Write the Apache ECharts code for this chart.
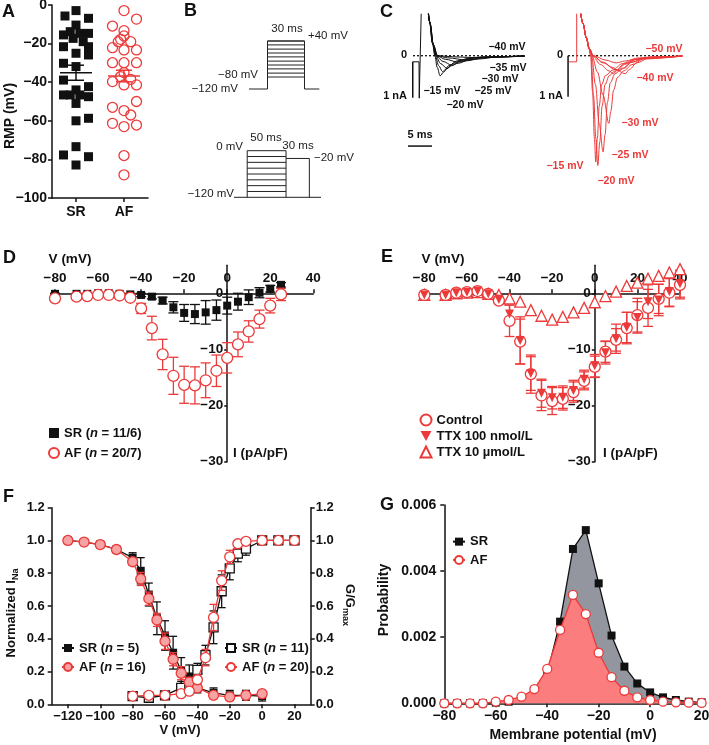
<!DOCTYPE html>
<html><head><meta charset="utf-8">
<script src="https://cdn.jsdelivr.net/npm/echarts@6/dist/echarts.min.js"></script>
<style>html,body{margin:0;padding:0;background:#fff}#c{width:709px;height:745px}</style>
</head><body><div id="c"></div><script>
const FONT = "'Liberation Sans', Arial, Helvetica, sans-serif";
const RED = '#ec3a3a';
const PINK = '#f7a3a3';
const GRAY = '#93959f';
const AREA_RED = '#fb7d7d';

// ---------- Panel A: resting membrane potential (mV)
const aSR = [-2.9,-5.7,-6.9,-10.4,-13.8,-14.7,-15.5,-14.7,-17.3,-19,-21.6,-21.6,-24.2,-25,-25.9,-30.2,-31.9,-38.9,-42.3,-44,-46.6,-46.6,-46.6,-47.5,-51,-58.7,-60,-73.4,-77.7,-78.6,-82.9];
const aSRJit = [0,-0.23,0.26,0,-0.12,0.08,-0.26,0.26,-0.06,0.15,-0.26,0.26,0.26,0,0.26,-0.26,0,-0.26,0.26,0,-0.26,-0.12,0.08,0.26,0,0.26,0,0,-0.26,0.26,0];
const aAF = [-2.9,-7.3,-10.9,-13.3,-16,-17.8,-19,-19,-22.1,-23.3,-23.3,-29.9,-29.9,-29.9,-35,-37.1,-38.5,-39.7,-41.4,-41.4,-50,-53,-54.7,-57,-61.3,-62.2,-63,-78,-88];
const aAFJit = [0,0.26,-0.24,0,0,-0.07,-0.12,0.14,-0.24,0,0.26,-0.24,0,0.26,0,-0.07,0.14,-0.24,0,0.26,0.26,-0.24,0,0.14,-0.24,0.26,0,0,0];
const aGroups = ['SR','AF'];
const aMean = [-35.1,-36.8];
const aSem = [3.9,3.0];

// ---------- Panel B: voltage protocols (ms, mV)
const bTopLevels = [-80,-67,-53,-40,-27,-13,0,13,27,40];
const bTopTimes = [0,15,45,57];      // start, step on, step off, end
const bHold = -120;
const bBotLevels = [0,-15,-30,-45,-60,-75,-90,-105];
const bBotTimes = [0,17,67,97,112];  // start, prepulse on, test on, test off, end
const bBotTest = -20;

// ---------- Panel C: current traces (ms, nA)
const cSR_m15 = [[1.5,2.0],[2.2,0.95],[2.8,0.35],[3.3,0],[3.8,-0.33],[4.4,-0.56],[5.1,-0.46],[6.2,-0.28],[8,-0.14],[11,-0.06],[15,-0.03],[22,-0.01]];
const cSR_m20 = [[1.5,2.0],[2.2,0.95],[2.8,0.35],[3.4,0],[4.1,-0.28],[4.9,-0.44],[5.7,-0.37],[7.2,-0.21],[9.5,-0.1],[13,-0.04],[22,-0.01]];
const cSR_m25 = [[1.5,2.0],[2.2,0.95],[2.9,0.33],[3.5,0],[4.5,-0.22],[5.8,-0.35],[6.8,-0.28],[8.6,-0.15],[11.5,-0.06],[15,-0.03],[22,-0.01]];
const cSR_m30 = [[1.5,2.0],[2.2,0.95],[2.9,0.33],[3.6,0],[5,-0.16],[6.8,-0.26],[8.2,-0.21],[10.5,-0.11],[14,-0.04],[22,-0.01]];
const cSR_m35 = [[1.5,2.0],[2.3,0.9],[3,0.3],[3.7,0],[5.5,-0.1],[8.2,-0.18],[10,-0.14],[13,-0.07],[17,-0.03],[22,-0.01]];
const cSR_m40 = [[1.5,2.0],[2.3,0.9],[3,0.3],[3.8,0],[6,-0.06],[9.9,-0.12],[12.5,-0.09],[16,-0.04],[22,-0.01]];
const cSR_m45 = [[1.5,2.0],[2.3,0.9],[3,0.3],[3.9,0],[7,-0.03],[11,-0.05],[16,-0.03],[22,-0.01]];
const cSRcap = [[-1.3,-0.17],[0,-0.17],[0.05,-1.18],[0.5,1.4]];
const cAF_m15 = [[0.3,1.8],[1.3,0.9],[2.0,0.5],[2.5,0.22],[2.9,0],[3.3,-1.0],[3.7,-2.3],[3.96,-2.95],[4.3,-2.3],[4.7,-1.4],[5.2,-0.8],[6.0,-0.55],[7.5,-0.4],[9.5,-0.22],[12,-0.1],[15,-0.04],[22,-0.01]];
const cAF_m20 = [[0.3,1.8],[1.3,0.9],[2.0,0.5],[2.5,0.22],[3.0,0],[3.5,-1.1],[4.0,-2.3],[4.4,-3.05],[4.8,-2.4],[5.3,-1.4],[5.9,-0.8],[6.8,-0.55],[8,-0.42],[10,-0.22],[12.5,-0.1],[16,-0.04],[22,-0.01]];
const cAF_m25 = [[0.3,1.8],[1.3,0.9],[2.0,0.5],[2.6,0.2],[3.1,0],[3.9,-0.8],[4.7,-1.9],[5.5,-2.67],[5.9,-2.2],[6.4,-1.3],[7.0,-0.75],[8,-0.5],[9.5,-0.35],[11.5,-0.18],[14,-0.07],[22,-0.01]];
const cAF_m30 = [[0.3,1.8],[1.3,0.9],[2.0,0.5],[2.6,0.2],[3.2,0],[4.3,-0.45],[5.5,-1.1],[6.7,-1.88],[7.1,-1.55],[7.7,-0.95],[8.5,-0.6],[9.8,-0.42],[11.5,-0.25],[14,-0.09],[22,-0.01]];
const cAF_m35 = [[0.3,1.8],[1.3,0.9],[2.0,0.5],[2.6,0.2],[3.3,0],[5,-0.25],[6.7,-0.42],[7.6,-0.5],[8.5,-0.4],[10,-0.24],[12.5,-0.1],[16,-0.03],[22,-0.01]];
const cAF_m40 = [[0.3,1.8],[1.3,0.9],[2.0,0.5],[2.7,0.18],[3.4,0],[5.5,-0.2],[8,-0.38],[10.1,-0.5],[11,-0.38],[12.5,-0.2],[15,-0.07],[22,-0.01]];
const cAF_m45 = [[0.3,1.8],[1.3,0.9],[2.0,0.5],[2.7,0.18],[3.4,0],[5.5,-0.18],[7.5,-0.33],[8.8,-0.42],[9.8,-0.35],[11.5,-0.18],[14.5,-0.06],[22,-0.01]];
const cAF_m50 = [[0.3,1.8],[1.3,0.9],[2.0,0.5],[2.7,0.18],[3.5,0],[6,-0.12],[8.2,-0.2],[10,-0.15],[13,-0.06],[22,-0.01]];
const cAFhold = [[-1.6,-0.17],[0,-0.17],[0,1.4]];

// ---------- Panel D: I-V (pA/pF)
const dV = [-80,-70,-65,-60,-55,-50,-45,-40,-35,-30,-25,-20,-15,-10,-5,0,5,10,15,20,25];
const dSR = [-0.1,-0.1,-0.1,0,0,-0.1,-0.2,-0.3,-0.6,-1.3,-2.5,-3.5,-3.7,-3.4,-3.0,-2.2,-1.5,-0.7,0.1,0.8,1.5];
const dSRerr = [0.1,0.1,0.1,0.1,0.1,0.1,0.2,0.3,0.4,0.6,1.0,1.5,1.7,2.1,1.8,1.5,1.5,1.3,0.9,0.6,0.4];
const dAF = [-0.9,-0.6,-0.5,-0.3,-0.3,-0.4,-0.8,-2.7,-6.2,-10.9,-14.7,-16.3,-16.4,-15.5,-13.8,-11.5,-9.1,-6.8,-4.6,-2.2,-0.2];
const dAFerr = [0.2,0.2,0.2,0.2,0.2,0.2,0.3,0.9,2.1,2.7,3.3,3.3,3.3,3.1,2.8,2.7,2.2,1.9,1.6,1.3,1.1];

// ---------- Panel E: I-V with TTX
const eV = [-80,-70,-65,-60,-55,-50,-45,-40,-35,-30,-25,-20,-15,-10,-5,0,5,10,15,20,25,30,35,40];
const eCtrl = [-0.3,-0.3,0.1,0.2,0.4,-0.1,-1.3,-4.9,-8.6,-14.4,-18.2,-19.2,-18.8,-17.6,-15.6,-13.1,-10.4,-8.3,-6.2,-3.9,-2.6,-1.0,0.1,1.5];
const eCtrlErr = [0.2,0.2,0.2,0.2,0.2,0.2,0.4,2.8,4.0,3.4,2.7,2.4,2.0,1.8,1.6,1.9,1.9,2.0,2.8,3.0,3.3,2.6,2.5,2.5];
const eTTX100 = [-0.3,-0.3,0.1,0.2,0.4,-0.1,-1.1,-3.7,-8.4,-14.3,-17.8,-18.6,-18.5,-17.3,-15.3,-12.9,-10.6,-8.1,-6.1,-4.3,-1.5,-1.2,0.3,1.7];
const eTTX100Err = [0.2,0.2,0.2,0.2,0.2,0.2,0.4,1.6,4.2,3.0,2.5,2.0,2.0,1.8,1.6,2.0,2.0,2.6,2.7,2.8,3.0,2.8,2.6,2.4];
const eTTX10 = [-0.3,-0.3,0,0.1,0.2,-0.1,-0.3,-0.9,-1.5,-3.0,-4.0,-4.7,-4.2,-3.4,-2.6,-1.6,-0.5,0.3,1.3,1.9,2.6,3.1,3.7,4.3];

// ---------- Panel F: inactivation / activation
const fInV = [-120,-110,-100,-90,-80,-75,-70,-65,-60,-55,-50,-45,-40,-30,-20,-10,0];
const fInSR = [1.0,0.99,0.975,0.945,0.895,0.815,0.67,0.525,0.42,0.315,0.205,0.17,0.1,0.07,0.055,0.055,0.05];
const fInSRerr = [0.005,0.01,0.01,0.015,0.03,0.08,0.07,0.1,0.09,0.1,0.08,0.07,0.03,0.03,0.03,0.03,0.03];
const fInAF = [1.0,0.99,0.975,0.945,0.87,0.765,0.645,0.515,0.385,0.275,0.19,0.135,0.1,0.055,0.045,0.055,0.065];
const fInAFerr = [0.005,0.01,0.01,0.015,0.02,0.04,0.04,0.04,0.05,0.04,0.04,0.03,0.02,0.02,0.02,0.02,0.02];
const fAcV = [-80,-70,-60,-50,-45,-40,-35,-30,-25,-20,-15,-10,0,10,20];
const fAcSR = [0.05,0.04,0.055,0.1,0.12,0.21,0.3,0.47,0.69,0.83,0.92,0.95,1.0,1.0,1.0];
const fAcSRerr = [0.01,0.01,0.01,0.04,0.05,0.04,0.06,0.1,0.1,0.07,0.05,0.04,0.01,0.01,0.01];
const fAcAF = [0.05,0.055,0.055,0.065,0.08,0.15,0.285,0.53,0.755,0.9,0.98,0.995,1.0,1.0,1.0];
const fAcAFerr = [0.01,0.01,0.01,0.01,0.02,0.03,0.05,0.08,0.06,0.04,0.02,0.01,0.005,0.005,0.005];

// ---------- Panel G: probability distribution
const gV = [-80,-75,-70,-65,-60,-55,-50,-45,-40,-35,-30,-25,-20,-15,-10,-5,0,5,10,15,20];
const gSR = [0,0,0,0,0.00002,0.00005,0.00015,0.0004,0.0009,0.00247,0.00467,0.00524,0.00363,0.00205,0.00111,0.0006,0.00033,0.00018,0.0001,0.00005,0.00003];
const gAF = [0,0,0,0,0.00005,0.0001,0.0002,0.00043,0.00104,0.00222,0.00328,0.0027,0.00153,0.00079,0.00038,0.00018,0.0001,0.00005,0.00003,0.00002,0.00001];

// ================= helpers
function minus(v){ return v < 0 ? '\u2212' + Math.abs(v) : String(v); }
function isObj(o){ return o && typeof o === 'object' && !Array.isArray(o); }
function merge(a, b){ const o = Object.assign({}, a); for (const k in b){ o[k] = (isObj(b[k]) && isObj(a[k])) ? merge(a[k], b[k]) : b[k]; } return o; }
function axis(o){
  return merge({type:'value', splitLine:{show:false},
    axisLine:{show:true, onZero:false, lineStyle:{color:'#111', width:1.5}},
    axisTick:{show:true, inside:false, length:4, lineStyle:{color:'#111', width:1.5}},
    axisLabel:{color:'#111', fontFamily:FONT, fontWeight:'bold', fontSize:13, margin:5, formatter:minus}}, o);
}
function hidden(o){ return Object.assign({type:'value', show:false, splitLine:{show:false}}, o); }
function zip(xs, ys){ return xs.map((x,i)=>[x, ys[i]]); }
function errData(xs, ys, es){ return xs.map((x,i)=>[x, ys[i]-es[i], ys[i]+es[i]]); }
function errSeries(xi, yi, data, color, cap, z){
  return {type:'custom', xAxisIndex:xi, yAxisIndex:yi, data, z:z||2, silent:true, encode:{x:0, y:[1,2]},
    renderItem(p, api){
      const x = api.value(0), a = api.coord([x, api.value(1)]), b = api.coord([x, api.value(2)]), h = cap/2;
      const st = {stroke:color, lineWidth:1.3};
      return {type:'group', children:[
        {type:'line', shape:{x1:a[0],y1:a[1],x2:b[0],y2:b[1]}, style:st},
        {type:'line', shape:{x1:a[0]-h,y1:a[1],x2:a[0]+h,y2:a[1]}, style:st},
        {type:'line', shape:{x1:b[0]-h,y1:b[1],x2:b[0]+h,y2:b[1]}, style:st}]};
    }};
}
function segSeries(xi, yi, data, style){
  return {type:'custom', xAxisIndex:xi, yAxisIndex:yi, data, silent:true, encode:{x:[0,2], y:[1,3]},
    renderItem(p, api){
      const a = api.coord([api.value(0), api.value(1)]), b = api.coord([api.value(2), api.value(3)]);
      return {type:'line', shape:{x1:a[0],y1:a[1],x2:b[0],y2:b[1]}, style:Object.assign({}, style)};
    }};
}
function trace(xi, yi, data, color, smooth){
  return {type:'line', xAxisIndex:xi, yAxisIndex:yi, data, showSymbol:false, symbol:'none', smooth: smooth===false?false:0.35,
    smoothMonotone:'x', clip:true, silent:true, lineStyle:{color, width:1}, z:3};
}
function T(x, y, text, o){
  o = o || {};
  return {type:'text', x, y, rotation:o.rot||0, silent:true, z:100,
    style:{text, fill:o.color||'#111', font:(o.weight||'bold')+' '+(o.size||13)+'px '+FONT,
      align:o.align||'left', verticalAlign:'middle', rich:o.rich}};
}

// ================= series
const series = [];
// A
series.push({type:'scatter', name:'A-SR', xAxisIndex:0, yAxisIndex:0, symbol:'rect', symbolSize:9,
  itemStyle:{color:'#111', opacity:1}, data:aSR.map((v,i)=>[0.5+aSRJit[i], v]), silent:true});
series.push({type:'scatter', name:'A-AF', xAxisIndex:0, yAxisIndex:0, symbol:'circle', symbolSize:10,
  itemStyle:{color:'rgba(255,255,255,0)', borderColor:RED, borderWidth:1.3, opacity:1}, data:aAF.map((v,i)=>[1.5+aAFJit[i], v]), silent:true});
series.push({type:'custom', xAxisIndex:0, yAxisIndex:0, silent:true, z:5, encode:{x:0, y:1},
  data:aGroups.map((g,i)=>[0.5+i, aMean[i], aSem[i], i]),
  renderItem(p, api){
    const x = api.value(0), m = api.value(1), s = api.value(2);
    const col = api.value(3) ? RED : '#111';
    const pm = api.coord([x,m]), pl = api.coord([x,m-s]), ph = api.coord([x,m+s]);
    const st = {stroke:col, lineWidth:1.5};
    return {type:'group', children:[
      {type:'line', shape:{x1:pm[0]-16,y1:pm[1],x2:pm[0]+16,y2:pm[1]}, style:st},
      {type:'line', shape:{x1:pl[0],y1:pl[1],x2:ph[0],y2:ph[1]}, style:st},
      {type:'line', shape:{x1:pl[0]-8,y1:pl[1],x2:pl[0]+8,y2:pl[1]}, style:st},
      {type:'line', shape:{x1:ph[0]-8,y1:ph[1],x2:ph[0]+8,y2:ph[1]}, style:st}]};
  }});

// B
const bStyle = {stroke:'#222', lineWidth:1};
series.push({type:'line', xAxisIndex:1, yAxisIndex:1, showSymbol:false, symbol:'none', clip:false, silent:true,
  lineStyle:{color:'#222', width:1},
  data:[[bTopTimes[0],bHold],[bTopTimes[1],bHold],[bTopTimes[1],bTopLevels[bTopLevels.length-1]],[bTopTimes[2],bTopLevels[bTopLevels.length-1]],[bTopTimes[2],bHold],[bTopTimes[3],bHold]]});
series.push(segSeries(1, 1, bTopLevels.map(l=>[bTopTimes[1], l, bTopTimes[2], l]), bStyle));
series.push(segSeries(2, 2, [[bBotTimes[0],bHold,bBotTimes[4],bHold],[bBotTimes[1],bHold,bBotTimes[1],bBotLevels[0]],[bBotTimes[2],bHold,bBotTimes[2],bBotLevels[0]],
  [bBotTimes[2],bBotTest,bBotTimes[3],bBotTest],[bBotTimes[3],bBotTest,bBotTimes[3],bHold]], bStyle));
series.push(segSeries(2, 2, bBotLevels.map(l=>[bBotTimes[1], l, bBotTimes[2], l]), bStyle));

// C black
[cSR_m45,cSR_m40,cSR_m35,cSR_m30,cSR_m25,cSR_m20,cSR_m15].forEach(d=>series.push(trace(3,3,d,'#111')));
series.push(trace(3,3,cSRcap,'#111',false));
series.push(segSeries(3,3,[[-1.25,0,21.9,0]], {stroke:'#111', lineWidth:1.3, lineDash:[2,2]}));
series.push(segSeries(3,3,[[-1.3,-0.17,-1.3,-1.17],[-2.3,-2.51,2.7,-2.51]], {stroke:'#111', lineWidth:1.5}));
// C red
[cAF_m50,cAF_m45,cAF_m40,cAF_m35,cAF_m30,cAF_m25,cAF_m20,cAF_m15].forEach(d=>series.push(trace(4,4,d,RED)));
series.push(trace(4,4,cAFhold,RED,false));
series.push(segSeries(4,4,[[-1.8,0,22.1,0]], {stroke:'#111', lineWidth:1.3, lineDash:[2,2]}));
series.push(segSeries(4,4,[[-1.8,0,-1.8,-1.14]], {stroke:'#111', lineWidth:1.5}));

// D
series.push(errSeries(5,5,errData(dV,dSR,dSRerr),'#111',10,2));
series.push({type:'scatter', name:'SR (n = 11/6)', xAxisIndex:5, yAxisIndex:5, symbol:'rect', symbolSize:8,
  itemStyle:{color:'#111', opacity:1}, data:zip(dV,dSR), z:3});
series.push(errSeries(5,5,errData(dV,dAF,dAFerr),RED,10,4));
series.push({type:'scatter', name:'AF (n = 20/7)', xAxisIndex:5, yAxisIndex:5, symbol:'circle', symbolSize:11,
  itemStyle:{color:'#fff', borderColor:RED, borderWidth:1.3, opacity:1}, data:zip(dV,dAF), z:5});

// E
series.push(errSeries(6,6,errData(eV,eCtrl,eCtrlErr),RED,10,2));
series.push(errSeries(6,6,errData(eV,eTTX100,eTTX100Err),RED,10,2));
series.push({type:'scatter', name:'TTX 10 \u00b5mol/L', xAxisIndex:6, yAxisIndex:6, symbol:'triangle', symbolSize:11,
  itemStyle:{color:'#fff', borderColor:RED, borderWidth:1.3, opacity:1}, data:zip(eV,eTTX10), z:3});
series.push({type:'scatter', name:'Control', xAxisIndex:6, yAxisIndex:6, symbol:'circle', symbolSize:11,
  itemStyle:{color:'#fff', borderColor:RED, borderWidth:1.3, opacity:1}, data:zip(eV,eCtrl), z:4});
series.push({type:'scatter', name:'TTX 100 nmol/L', xAxisIndex:6, yAxisIndex:6, symbol:'triangle', symbolRotate:180, symbolSize:9,
  itemStyle:{color:RED, opacity:1}, data:zip(eV,eTTX100), z:5});

// F
series.push(errSeries(7,7,errData(fInV,fInSR,fInSRerr),'#111',8,2));
series.push(errSeries(7,7,errData(fAcV,fAcSR,fAcSRerr),'#111',8,2));
series.push({type:'line', name:'SR (n = 5)', xAxisIndex:7, yAxisIndex:7, data:zip(fInV,fInSR), symbol:'rect', symbolSize:8,
  lineStyle:{color:'#111', width:1.3}, itemStyle:{color:'#111'}, z:3});
series.push({type:'line', name:'SR (n = 11)', xAxisIndex:7, yAxisIndex:7, data:zip(fAcV,fAcSR), symbol:'rect', symbolSize:9,
  lineStyle:{color:'#111', width:1.3}, itemStyle:{color:'#fff', borderColor:'#111', borderWidth:1.3}, z:3});
series.push(errSeries(7,7,errData(fInV,fInAF,fInAFerr),RED,8,4));
series.push(errSeries(7,7,errData(fAcV,fAcAF,fAcAFerr),RED,8,4));
series.push({type:'line', name:'AF (n = 16)', xAxisIndex:7, yAxisIndex:7, data:zip(fInV,fInAF), symbol:'circle', symbolSize:10,
  lineStyle:{color:RED, width:1.3}, itemStyle:{color:PINK, borderColor:RED, borderWidth:1.3}, z:5});
series.push({type:'line', name:'AF (n = 20)', xAxisIndex:7, yAxisIndex:7, data:zip(fAcV,fAcAF), symbol:'circle', symbolSize:10,
  lineStyle:{color:RED, width:1.3}, itemStyle:{color:'#fff', borderColor:RED, borderWidth:1.3}, z:5});

// G
series.push({type:'line', name:'SR', xAxisIndex:8, yAxisIndex:9, data:zip(gV,gSR), symbol:'rect', symbolSize:8,
  lineStyle:{color:'#111', width:1.3}, itemStyle:{color:'#111'}, areaStyle:{color:GRAY, opacity:1}, z:2});
series.push({type:'line', name:'AF', xAxisIndex:8, yAxisIndex:9, data:zip(gV,gAF), symbol:'circle', symbolSize:9,
  lineStyle:{color:RED, width:1.3}, itemStyle:{color:'#fff', borderColor:RED, borderWidth:1.3}, areaStyle:{color:AREA_RED, opacity:1}, z:3});

// ================= legends
function leg(names, left, top, lh, iw, ih){
  return {data:names, left, top, orient:'vertical', padding:0, itemGap:0, itemWidth:iw, itemHeight:ih, selectedMode:false,
    formatter: n => n.indexOf('n =') >= 0 ? n.replace('n =', '{i|n} =') : n,
    textStyle:{color:'#111', fontFamily:FONT, fontWeight:'bold', fontSize:13, lineHeight:lh,
      rich:{i:{fontStyle:'italic', fontWeight:'bold', fontFamily:FONT, fontSize:13, lineHeight:lh, color:'#111'}}}};
}

const option = {
  animation:false,
  backgroundColor:'#fff',
  grid:[
    {left:52, top:5, width:96, height:193},
    {left:249, top:41, width:70.3, height:48},
    {left:234, top:150.7, width:87, height:46.6},
    {left:404.6, top:14.3, width:124.8, height:135},
    {left:562.3, top:14.3, width:124.8, height:156.6},
    {left:55, top:265.2, width:258.3, height:196.5},
    {left:424.3, top:265.2, width:255.7, height:196.5},
    {left:51.7, top:507.7, width:259, height:196.6},
    {left:444.3, top:505, width:257.3, height:198.3}
  ].map(g=>Object.assign({containLabel:false, outerBoundsMode:'none'}, g)),
  xAxis:[
    axis({gridIndex:0, min:0, max:2, axisTick:{customValues:[0.5,1.5]},
      axisLabel:{customValues:[0.5,1.5], formatter:v=>aGroups[v<1?0:1], fontSize:14, margin:7}}),
    hidden({gridIndex:1, min:bTopTimes[0], max:bTopTimes[3]}),
    hidden({gridIndex:2, min:bBotTimes[0], max:bBotTimes[4]}),
    hidden({gridIndex:3, min:-3, max:23}),
    hidden({gridIndex:4, min:-3, max:23}),
    axis({gridIndex:5, min:-80, max:40, interval:20, position:'top', offset:-28.1, axisLabel:{fontSize:13.5, margin:8}}),
    axis({gridIndex:6, min:-80, max:40, interval:20, position:'top', offset:-28.1, axisLabel:{fontSize:13.5, margin:8}}),
    axis({gridIndex:7, min:-130, max:30, axisTick:{customValues:[-120,-100,-80,-60,-40,-20,0,20]},
      axisLabel:{customValues:[-120,-100,-80,-60,-40,-20,0,20], margin:6}}),
    axis({gridIndex:8, min:-80, max:20, interval:20, axisLabel:{fontSize:14, margin:6}})
  ],
  yAxis:[
    axis({gridIndex:0, min:-100, max:0, interval:20, axisLabel:{fontSize:14, margin:5}}),
    hidden({gridIndex:1, min:-120, max:40}),
    hidden({gridIndex:2, min:-120, max:0}),
    hidden({gridIndex:3, min:-2.6, max:1.15}),
    hidden({gridIndex:4, min:-3.2, max:1.15}),
    axis({gridIndex:5, min:-30, max:5, offset:-172.2, axisTick:{customValues:[-30,-20,-10,0], length:3},
      axisLabel:{customValues:[-30,-20,-10,0], fontSize:13.5, margin:4}}),
    axis({gridIndex:6, min:-30, max:5, offset:-170.5, axisTick:{customValues:[-30,-20,-10,0], length:3},
      axisLabel:{customValues:[-30,-20,-10,0], fontSize:13.5, margin:4}}),
    axis({gridIndex:7, min:0, max:1.2, interval:0.2, axisLabel:{formatter:v=>v.toFixed(1), margin:7}}),
    axis({gridIndex:7, min:0, max:1.2, interval:0.2, position:'right', axisLabel:{formatter:v=>v.toFixed(1), margin:5}}),
    axis({gridIndex:8, min:0, max:0.006, interval:0.002, axisLabel:{formatter:v=>v.toFixed(3), fontSize:14, margin:8}})
  ],
  legend:[
    leg(['SR (n = 11/6)','AF (n = 20/7)'], 48, 423, 20, 10, 10),
    leg(['Control',{name:'TTX 100 nmol/L', icon:'path://M0,0L10,0L5,9Z'},'TTX 10 \u00b5mol/L'], 419.5, 412, 16, 11, 11),
    leg(['SR (n = 5)','AF (n = 16)'], 61, 638.5, 19, 12, 10),
    leg(['SR (n = 11)','AF (n = 20)'], 224, 638.5, 19, 12, 10),
    leg(['SR','AF'], 452, 532.5, 18.3, 12, 10)
  ],
  series,
  graphic:[
    T(2,12,'A',{size:18}), T(184,11,'B',{size:18}), T(380,12,'C',{size:18}),
    T(3,258,'D',{size:18}), T(381,257,'E',{size:18}), T(3,497,'F',{size:18}), T(380,505,'G',{size:18}),
    T(10,116,'RMP (mV)',{size:14, align:'center', rot:Math.PI/2}),
    // B
    T(287,29,'30 ms',{weight:'normal', size:11.5, align:'center', color:'#222'}),
    T(308,36,'+40 mV',{weight:'normal', size:11.5, color:'#222'}),
    T(258,75,'\u221280 mV',{weight:'normal', size:11.5, align:'right', color:'#222'}),
    T(238,89,'\u2212120 mV',{weight:'normal', size:11.5, align:'right', color:'#222'}),
    T(266,138,'50 ms',{weight:'normal', size:11.5, align:'center', color:'#222'}),
    T(298,146,'30 ms',{weight:'normal', size:11.5, align:'center', color:'#222'}),
    T(243,147,'0 mV',{weight:'normal', size:11.5, align:'right', color:'#222'}),
    T(314,158,'\u221220 mV',{weight:'normal', size:11.5, color:'#222'}),
    T(234,194,'\u2212120 mV',{weight:'normal', size:11.5, align:'right', color:'#222'}),
    // C black
    T(404,55,'0',{size:11, align:'center'}),
    T(407,96,'1 nA',{size:11, align:'right'}),
    T(420,135,'5 ms',{size:11, align:'center'}),
    T(507,47,'\u221240 mV',{size:10.5, align:'center'}),
    T(508,68,'\u221235 mV',{size:10.5, align:'center'}),
    T(500,79,'\u221230 mV',{size:10.5, align:'center'}),
    T(493,91,'\u221225 mV',{size:10.5, align:'center'}),
    T(442,91,'\u221215 mV',{size:10.5, align:'center'}),
    T(465,105,'\u221220 mV',{size:10.5, align:'center'}),
    // C red
    T(560,55,'0',{size:11, align:'center'}),
    T(563,96,'1 nA',{size:11, align:'right'}),
    T(664,49,'\u221250 mV',{size:10.5, align:'center', color:RED}),
    T(655,78,'\u221240 mV',{size:10.5, align:'center', color:RED}),
    T(640,123,'\u221230 mV',{size:10.5, align:'center', color:RED}),
    T(630,155,'\u221225 mV',{size:10.5, align:'center', color:RED}),
    T(565,166,'\u221215 mV',{size:10.5, align:'center', color:RED}),
    T(616,181,'\u221220 mV',{size:10.5, align:'center', color:RED}),
    // D, E
    T(70,259,'V (mV)',{size:13.5, align:'center'}),
    T(233,453,'I (pA/pF)',{size:13.5}),
    T(443,259,'V (mV)',{size:13.5, align:'center'}),
    T(603,453,'I (pA/pF)',{size:13.5}),
    // F
    T(11,613,'{n|Normalized I}{s|Na}',{align:'center', rot:Math.PI/2,
      rich:{n:{font:'bold 13px '+FONT, fill:'#111', lineHeight:18, verticalAlign:'middle'}, s:{font:'bold 9px '+FONT, fill:'#111', lineHeight:18, verticalAlign:'bottom'}}}),
    T(350,605,'{n|G/G}{s|max}',{align:'center', rot:-Math.PI/2,
      rich:{n:{font:'bold 13px '+FONT, fill:'#111', lineHeight:18, verticalAlign:'middle'}, s:{font:'bold 9px '+FONT, fill:'#111', lineHeight:18, verticalAlign:'bottom'}}}),
    T(180,730,'V (mV)',{size:13, align:'center'}),
    // G
    T(384,600,'Probability',{size:14, align:'center', rot:Math.PI/2}),
    T(573,735,'Membrane potential (mV)',{size:14, align:'center'})
  ]
};
const chart = echarts.init(document.getElementById('c'), null, {renderer:'canvas'});
chart.setOption(option);
</script></body></html>
